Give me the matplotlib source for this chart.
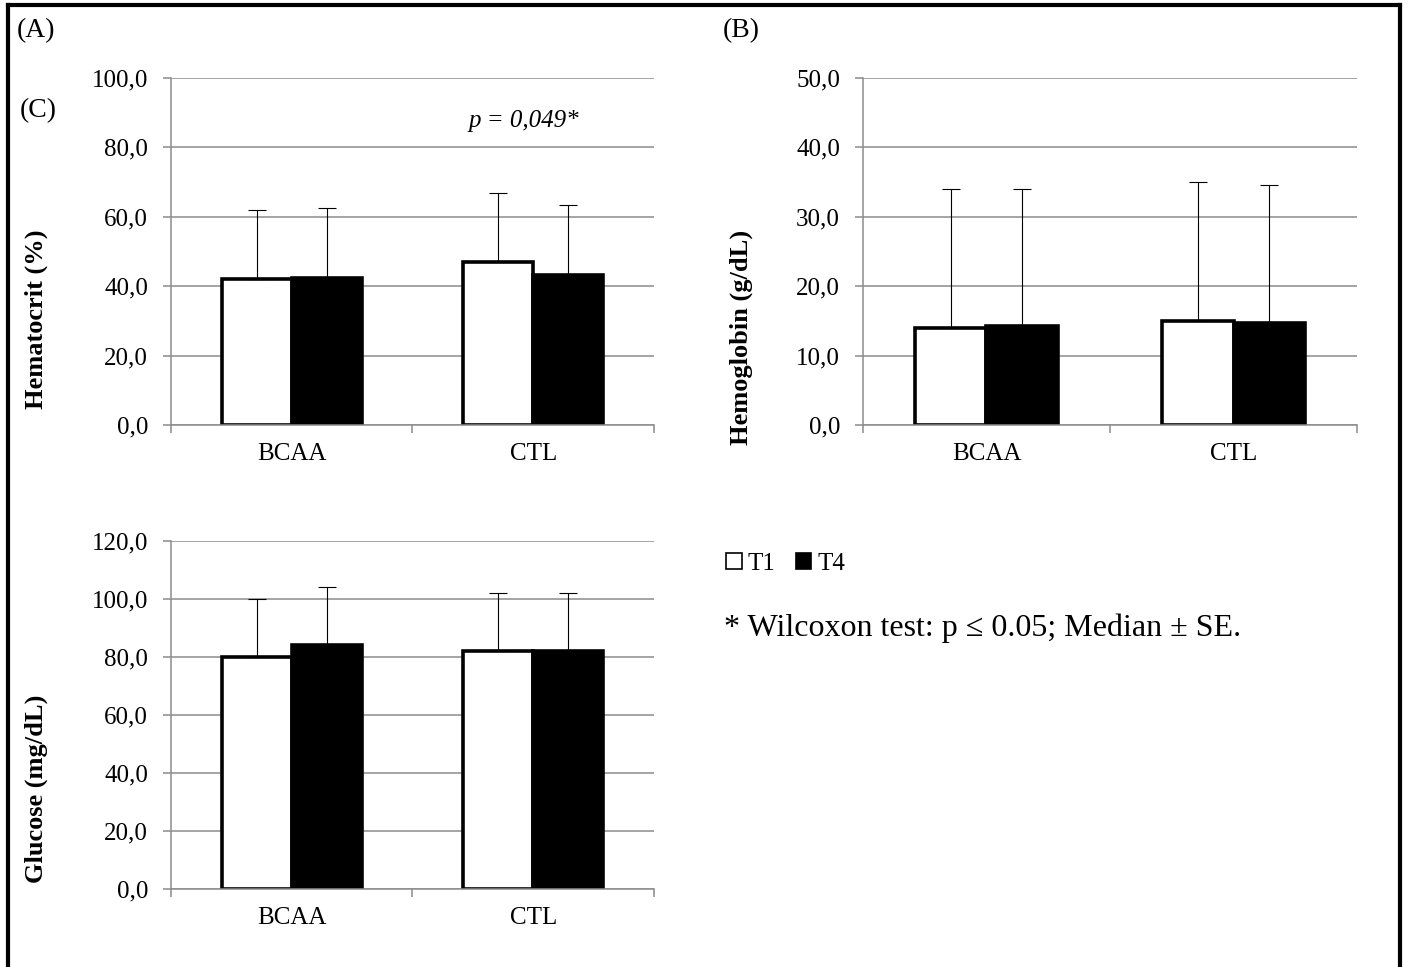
import matplotlib
matplotlib.use('Agg')
import matplotlib.pyplot as plt
from matplotlib.patches import Patch
from matplotlib.lines import Line2D
import numpy as np

plt.rcParams['font.family'] = ['Liberation Serif', 'DejaVu Serif']

groups = ['BCAA', 'CTL']
series = ['T1', 'T4']

hct_t1 = [42.0, 47.0]
hct_t4 = [42.5, 43.3]
hct_se_t1 = [20.0, 20.0]
hct_se_t4 = [20.0, 20.0]

hb_t1 = [14.0, 15.0]
hb_t4 = [14.2, 14.7]
hb_se_t1 = [20.0, 20.0]
hb_se_t4 = [19.8, 19.9]

glu_t1 = [80.0, 82.0]
glu_t4 = [84.0, 82.0]
glu_se_t1 = [20.0, 20.0]
glu_se_t4 = [20.0, 20.0]

grid_col = '#8c8c8c'
bar_w = 0.29


def panel(ax, t1, t4, se1, se4, ymax, ystep, ylabel, lab_x, lab_y):
    x = np.arange(len(groups))
    ax.set_axisbelow(True)
    ax.bar(x - bar_w / 2, t1, bar_w, color='white', edgecolor='black', linewidth=2.6, zorder=2)
    ax.bar(x + bar_w / 2, t4, bar_w, color='black', edgecolor='black', linewidth=2.6, zorder=2)
    ax.errorbar(x - bar_w / 2, t1, yerr=[np.zeros(len(se1)), se1], fmt='none',
                ecolor='black', elinewidth=0.8, capsize=6.5, capthick=0.8, zorder=3)
    ax.errorbar(x + bar_w / 2, t4, yerr=[np.zeros(len(se4)), se4], fmt='none',
                ecolor='black', elinewidth=0.8, capsize=6.5, capthick=0.8, zorder=3)
    ax.set_xlim(-0.5, len(groups) - 0.5)
    ax.set_ylim(0, ymax)
    yt = np.arange(0, ymax + ystep / 2, ystep)
    ax.set_yticks(yt)
    ax.set_yticklabels([('%.1f' % v).replace('.', ',') for v in yt])
    ax.set_xticks(x)
    ax.set_xticklabels(groups)
    ax.set_xticks(np.arange(-0.5, len(groups)), minor=True)
    ax.tick_params(axis='x', which='major', length=0, pad=13, labelsize=18)
    ax.tick_params(axis='x', which='minor', length=6, color=grid_col, width=1.1)
    ax.tick_params(axis='y', length=5.5, color=grid_col, width=1.1, labelsize=18, pad=11)
    ax.yaxis.grid(True, color=grid_col, linewidth=1.1)
    for s in ['top', 'right']:
        ax.spines[s].set_visible(False)
    for s in ['left', 'bottom']:
        ax.spines[s].set_color(grid_col)
        ax.spines[s].set_linewidth(1.1)
    ax.set_ylabel(ylabel, fontsize=19, fontweight='bold')
    ax.yaxis.set_label_coords(lab_x, lab_y)


fig = plt.figure(figsize=(14.08, 9.67), dpi=100)

ax_a = fig.add_axes([0.1214, 0.5605, 0.3430, 0.3588])
panel(ax_a, hct_t1, hct_t4, hct_se_t1, hct_se_t4, 100, 20, 'Hematocrit (%)', -0.255, 0.305)
ax_a.text(0.96, 87.5, 'p = 0,049*', fontsize=18, style='italic', ha='center', va='center')

ax_b = fig.add_axes([0.6129, 0.5605, 0.3509, 0.3588])
panel(ax_b, hb_t1, hb_t4, hb_se_t1, hb_se_t4, 50, 10, 'Hemoglobin (g/dL)', -0.222, 0.251)

ax_c = fig.add_axes([0.1214, 0.0807, 0.3430, 0.3599])
panel(ax_c, glu_t1, glu_t4, glu_se_t1, glu_se_t4, 120, 20, 'Glucose (mg/dL)', -0.255, 0.287)

fig.text(17 / 1408, 1 - 31 / 967, '(A)', fontsize=20, va='center', ha='left')
fig.text(723 / 1408, 1 - 31 / 967, '(B)', fontsize=20, va='center', ha='left')
fig.text(20 / 1408, 1 - 111 / 967, '(C)', fontsize=20, va='center', ha='left')

handles = [Patch(facecolor='white', edgecolor='black', linewidth=1.2),
           Patch(facecolor='black', edgecolor='black', linewidth=1.2)]
fig.legend(handles, series, loc='center left', bbox_to_anchor=(726 / 1408, 1 - 564 / 967),
           ncol=2, frameon=False, fontsize=18, handlelength=0.62, handleheight=0.6,
           handletextpad=0.25, columnspacing=0.8, borderaxespad=0, borderpad=0)

fig.text(724 / 1408, 1 - 628 / 967, '* Wilcoxon test: p \u2264 0.05; Median \u00b1 SE.',
         fontsize=23, va='center', ha='left')

# frame around the figure (no bottom edge)
for xs, ys in [([8 / 1408, 8 / 1408], [0, 1 - 5 / 967]),
               ([8 / 1408, 1400 / 1408], [1 - 5 / 967, 1 - 5 / 967]),
               ([1400 / 1408, 1400 / 1408], [1 - 5 / 967, 0])]:
    fig.add_artist(Line2D(xs, ys, color='black', linewidth=3, transform=fig.transFigure,
                          solid_capstyle='projecting'))

fig.savefig('out.png', dpi=100)
